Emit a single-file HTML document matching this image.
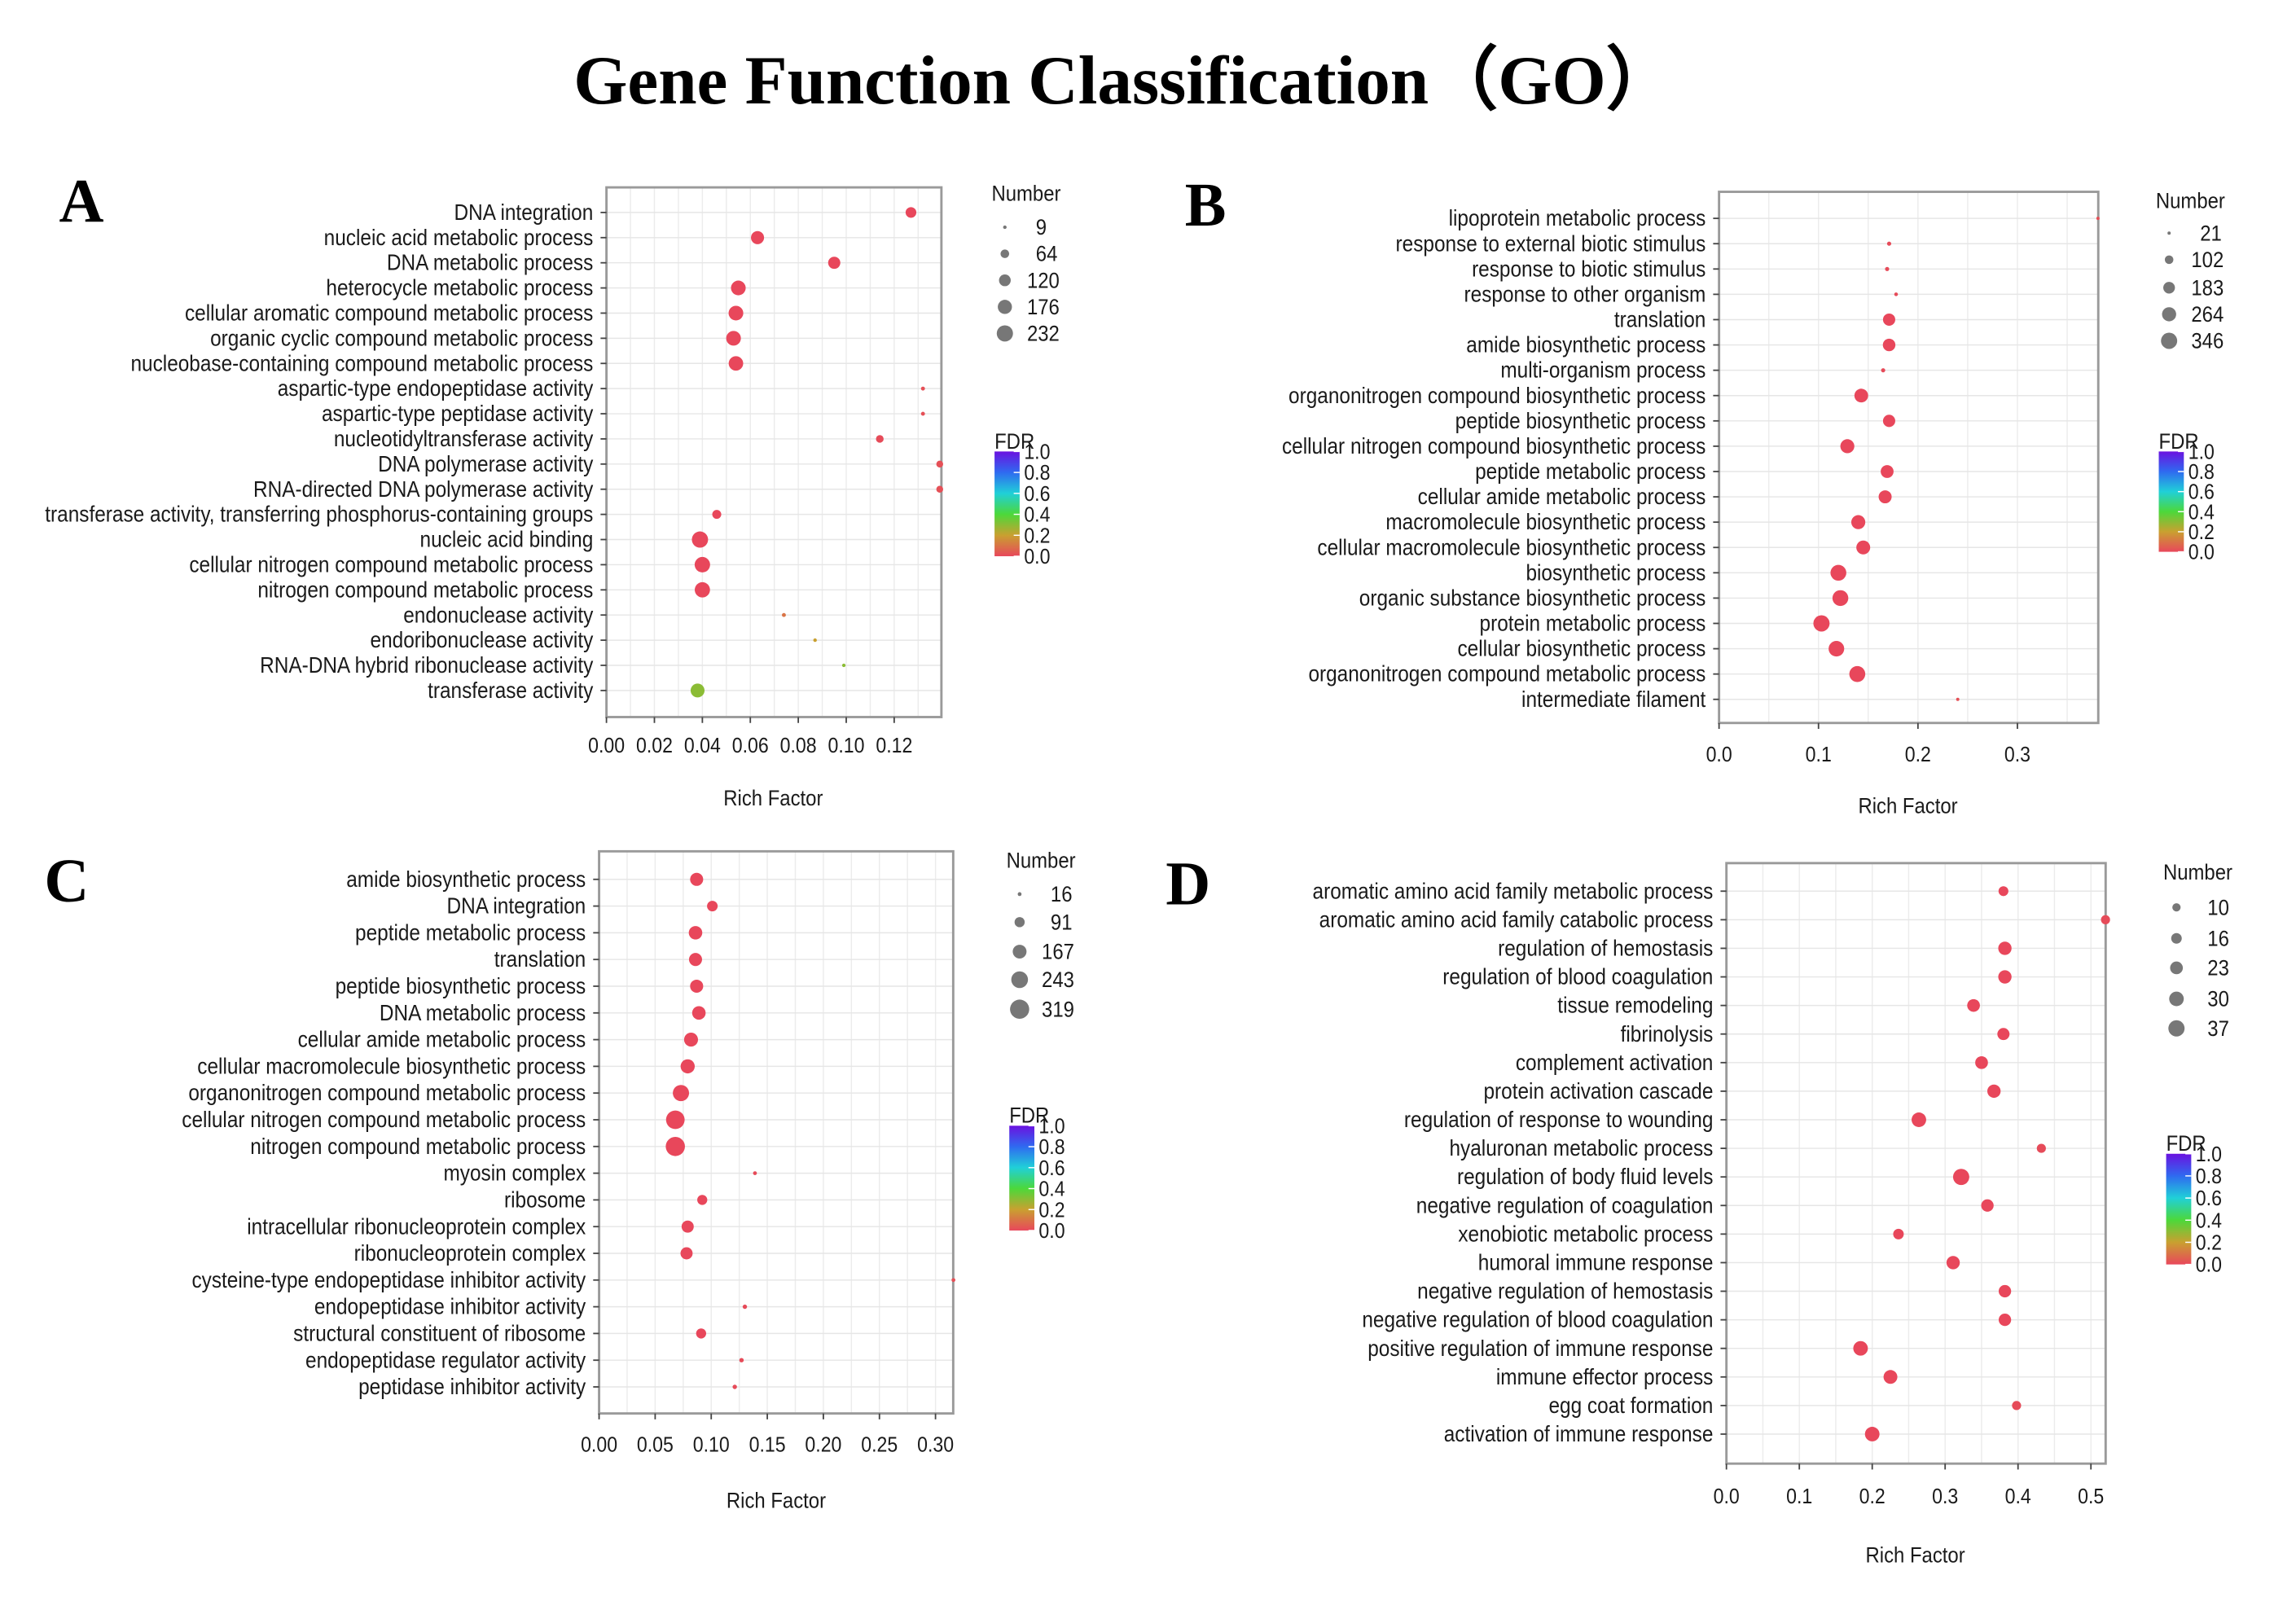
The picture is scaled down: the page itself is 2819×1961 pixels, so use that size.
<!DOCTYPE html>
<html><head><meta charset="utf-8"><style>
html,body{margin:0;padding:0;background:#fff;}
svg{display:block;}
</style></head><body>
<svg id="fig" width="2819" height="1961" viewBox="0 0 1556 1082.4" xmlns="http://www.w3.org/2000/svg" font-family="'Liberation Sans', sans-serif">
<defs>
<linearGradient id="fdrgrad" x1="0" y1="1" x2="0" y2="0">
<stop offset="0" stop-color="#e8475b"/><stop offset="0.2" stop-color="#c9a030"/><stop offset="0.4" stop-color="#4cd83a"/>
<stop offset="0.6" stop-color="#20d0d8"/><stop offset="0.8" stop-color="#2f6af0"/><stop offset="1" stop-color="#6a12e0"/>
</linearGradient>
</defs>
<text x="762" y="70" text-anchor="middle" font-family="'Liberation Serif', serif" font-weight="bold" font-size="47">Gene Function Classification（GO）</text>
<g id="root"></g>
</svg>
<script>
// Panel A data
const catsA = ["DNA integration","nucleic acid metabolic process","DNA metabolic process","heterocycle metabolic process","cellular aromatic compound metabolic process","organic cyclic compound metabolic process","nucleobase-containing compound metabolic process","aspartic-type endopeptidase activity","aspartic-type peptidase activity","nucleotidyltransferase activity","DNA polymerase activity","RNA-directed DNA polymerase activity","transferase activity, transferring phosphorus-containing groups","nucleic acid binding","cellular nitrogen compound metabolic process","nitrogen compound metabolic process","endonuclease activity","endoribonuclease activity","RNA-DNA hybrid ribonuclease activity","transferase activity"];
const richA = [0.127,0.063,0.095,0.055,0.054,0.053,0.054,0.132,0.132,0.114,0.139,0.139,0.046,0.039,0.040,0.040,0.074,0.087,0.099,0.038];
const numA = [100,150,130,190,190,190,185,12,12,50,40,40,70,232,210,205,12,9,9,170];
const fdrA = [0,0,0,0,0,0,0,0.02,0.02,0.01,0.02,0.02,0,0,0,0,0.1,0.2,0.3,0.3];
const ticksA = [0,0.02,0.04,0.06,0.08,0.10,0.12];
const tickLabA = ["0.00","0.02","0.04","0.06","0.08","0.10","0.12"];
const legA = [9,64,120,176,232];
// Panel B data
const catsB = ["lipoprotein metabolic process","response to external biotic stimulus","response to biotic stimulus","response to other organism","translation","amide biosynthetic process","multi-organism process","organonitrogen compound biosynthetic process","peptide biosynthetic process","cellular nitrogen compound biosynthetic process","peptide metabolic process","cellular amide metabolic process","macromolecule biosynthetic process","cellular macromolecule biosynthetic process","biosynthetic process","organic substance biosynthetic process","protein metabolic process","cellular biosynthetic process","organonitrogen compound metabolic process","intermediate filament"];
const richB = [0.381,0.171,0.169,0.178,0.171,0.171,0.165,0.143,0.171,0.129,0.169,0.167,0.140,0.145,0.120,0.122,0.103,0.118,0.139,0.240];
const numB = [21,30,30,25,200,210,30,250,200,260,220,225,260,255,330,330,346,320,335,21];
const fdrB = [0.02,0.01,0.01,0.01,0,0,0.01,0,0,0,0,0,0,0,0,0,0,0,0,0.02];
const ticksB = [0,0.1,0.2,0.3];
const tickLabB = ["0.0","0.1","0.2","0.3"];
const legB = [21,102,183,264,346];
// Panel C data
const catsC = ["amide biosynthetic process","DNA integration","peptide metabolic process","translation","peptide biosynthetic process","DNA metabolic process","cellular amide metabolic process","cellular macromolecule biosynthetic process","organonitrogen compound metabolic process","cellular nitrogen compound metabolic process","nitrogen compound metabolic process","myosin complex","ribosome","intracellular ribonucleoprotein complex","ribonucleoprotein complex","cysteine-type endopeptidase inhibitor activity","endopeptidase inhibitor activity","structural constituent of ribosome","endopeptidase regulator activity","peptidase inhibitor activity"];
const richC = [0.087,0.101,0.086,0.086,0.087,0.089,0.082,0.079,0.073,0.068,0.068,0.139,0.092,0.079,0.078,0.316,0.130,0.091,0.127,0.121];
const numC = [150,100,160,150,150,160,170,175,230,300,319,16,90,130,130,16,20,90,20,20];
const fdrC = [0,0,0,0,0,0,0,0,0,0,0,0.01,0,0,0,0.02,0.01,0,0.01,0.01];
const ticksC = [0,0.05,0.10,0.15,0.20,0.25,0.30];
const tickLabC = ["0.00","0.05","0.10","0.15","0.20","0.25","0.30"];
const legC = [16,91,167,243,319];
// Panel D data
const catsD = ["aromatic amino acid family metabolic process","aromatic amino acid family catabolic process","regulation of hemostasis","regulation of blood coagulation","tissue remodeling","fibrinolysis","complement activation","protein activation cascade","regulation of response to wounding","hyaluronan metabolic process","regulation of body fluid levels","negative regulation of coagulation","xenobiotic metabolic process","humoral immune response","negative regulation of hemostasis","negative regulation of blood coagulation","positive regulation of immune response","immune effector process","egg coat formation","activation of immune response"];
const richD = [0.380,0.520,0.382,0.382,0.339,0.380,0.350,0.367,0.264,0.432,0.322,0.358,0.236,0.311,0.382,0.382,0.184,0.225,0.398,0.200];
const numD = [14,12,25,25,23,21,23,25,30,12,37,22,16,25,22,22,30,27,12,30];
const fdrD = [0,0.01,0,0,0,0,0,0,0,0.01,0,0,0,0,0,0,0,0,0.01,0];
const ticksD = [0,0.1,0.2,0.3,0.4,0.5];
const tickLabD = ["0.0","0.1","0.2","0.3","0.4","0.5"];
const legD = [10,16,23,30,37];

const NS = "http://www.w3.org/2000/svg";
const root = document.getElementById('root');
function mk(tag, attrs, parent){const e=document.createElementNS(NS,tag);for(const k in attrs)e.setAttribute(k,attrs[k]);(parent||root).appendChild(e);return e;}
function txt(x,y,s,size,anchor,parent){const e=mk('text',{transform:`translate(${x},${y}) scale(0.88,1)`,'font-size':size,'text-anchor':anchor||'start',fill:'#1a1a1a'},parent);e.textContent=s;return e;}
const stops=[[0,[232,71,91]],[0.2,[201,160,48]],[0.4,[76,216,58]],[0.6,[32,208,216]],[0.8,[47,106,240]],[1,[106,18,224]]];
function fdrColor(f){for(let i=1;i<stops.length;i++){if(f<=stops[i][0]){const a=stops[i-1],b=stops[i];const t=(f-a[0])/(b[0]-a[0]);const c=a[1].map((v,j)=>Math.round(v+(b[1][j]-v)*t));return `rgb(${c})`;}}return 'rgb(106,18,224)';}

const panels=[
 {id:'a',letter:'A',lx:40,ly:150,cats:catsA,rich:richA,num:numA,fdr:fdrA,ticks:ticksA,tl:tickLabA,leg:legA,x0:411,x1:638,y0:127,y1:486,xmax:0.1397,rowTop:144,rowBot:468,tickY:510,rfX:524,rfY:546,rmin:1.2,rmax:5.5,lgX:672,lgY:136,lgRows:[154,172,190,208,226],cbY:306,cbH:71},
 {id:'b',letter:'B',lx:803,ly:153,cats:catsB,rich:richB,num:numB,fdr:fdrB,ticks:ticksB,tl:tickLabB,leg:legB,x0:1165,x1:1422,y0:130,y1:490,xmax:0.3813,rowTop:148,rowBot:474,tickY:516,rfX:1293,rfY:551,rmin:1.1,rmax:5.5,lgX:1461,lgY:141,lgRows:[158,176,195,213,231],cbY:306,cbH:68},
 {id:'c',letter:'C',lx:30,ly:611,cats:catsC,rich:richC,num:numC,fdr:fdrC,ticks:ticksC,tl:tickLabC,leg:legC,x0:406,x1:646,y0:577,y1:958,xmax:0.3158,rowTop:596,rowBot:940,tickY:984,rfX:526,rfY:1022,rmin:1.3,rmax:6.5,lgX:682,lgY:588,lgRows:[606,625,645,664,684],cbY:763,cbH:71},
 {id:'d',letter:'D',lx:790,ly:613,cats:catsD,rich:richD,num:numD,fdr:fdrD,ticks:ticksD,tl:tickLabD,leg:legD,x0:1170,x1:1427,y0:585,y1:992,xmax:0.5202,rowTop:604,rowBot:972,tickY:1019,rfX:1298,rfY:1059,rmin:2.8,rmax:5.5,lgX:1466,lgY:596,lgRows:[615,636,656,677,697],cbY:782,cbH:75}
];

panels.forEach(p=>{
 const g=mk('g',{});
 
 
 const L=mk('text',{x:p.lx,y:p.ly,'font-family':"'Liberation Serif', serif",'font-weight':'bold','font-size':42,fill:'#000'},g);
 L.textContent=p.letter;
 
 
 const xs=v=>p.x0+(v/p.xmax)*(p.x1-p.x0);
 const n=p.cats.length;
 const ys=i=>p.rowTop+i*(p.rowBot-p.rowTop)/(n-1);
 const nmin=p.leg[0],nmax=p.leg[p.leg.length-1];
 const rs=v=>Math.sqrt(p.rmin*p.rmin+(p.rmax*p.rmax-p.rmin*p.rmin)*Math.max(0,(v-nmin))/(nmax-nmin));
 const bg=mk('rect',{x:p.x0,y:p.y0,width:p.x1-p.x0,height:p.y1-p.y0,fill:'#fff'},g);
 
 
 const dt=p.ticks[1]-p.ticks[0];
 for(let v=dt/2;v<p.xmax;v+=dt/2){mk('line',{x1:xs(v),x2:xs(v),y1:p.y0,y2:p.y1,stroke:'#ececec','stroke-width':0.8},g);}
 p.cats.forEach((c,i)=>{mk('line',{x1:p.x0,x2:p.x1,y1:ys(i),y2:ys(i),stroke:'#e6e6e6','stroke-width':0.8},g);});
 const fr=mk('rect',{x:p.x0,y:p.y0,width:p.x1-p.x0,height:p.y1-p.y0,fill:'none',stroke:'#9a9a9a','stroke-width':1.6},g);
 
 
 p.cats.forEach((c,i)=>{
  mk('line',{x1:p.x0-4,x2:p.x0,y1:ys(i),y2:ys(i),stroke:'#444','stroke-width':1},g);
  const t=txt(p.x0-9,ys(i)+5,c,15.3,'end',g);
  
  
 });
 p.ticks.forEach((v,i)=>{
  mk('line',{x1:xs(v),x2:xs(v),y1:p.y1,y2:p.y1+4,stroke:'#444','stroke-width':1},g);
  const t=txt(xs(v),p.tickY,p.tl[i],14.5,'middle',g);
  
  
 });
 const rf=txt(p.rfX,p.rfY,'Rich Factor',15,'middle',g);
 
 
 p.cats.forEach((c,i)=>{
  const d=mk('circle',{cx:xs(p.rich[i]),cy:ys(i),r:rs(p.num[i]),fill:fdrColor(p.fdr[i])},g);
  
  
 });
 const nt=txt(p.lgX,p.lgY,'Number',15,'start',g);
 
 
 p.leg.forEach((v,i)=>{
  const dd=mk('circle',{cx:p.lgX+9,cy:p.lgRows[i],r:rs(v),fill:'#777'},g);
  
  
  const lt=txt(p.lgX+24+(String(v).length<3?6:0),p.lgRows[i]+5,String(v),15,'start',g);
  
  
 });
 const ft=txt(p.lgX+2,p.cbY-2,'FDR',15,'start',g);
 
 
 const cb=mk('rect',{x:p.lgX+2,y:p.cbY,width:17,height:p.cbH,fill:'url(#fdrgrad)'},g);
 
 
 [0,0.2,0.4,0.6,0.8,1.0].forEach(v=>{
  const yy=p.cbY+p.cbH*(1-v);
  mk('line',{x1:p.lgX+15,x2:p.lgX+19,y1:yy,y2:yy,stroke:'#fff','stroke-width':0.8},g);
  const ct=txt(p.lgX+22,yy+5,v.toFixed(1),14.5,'start',g);
  
  
 });
});
</script>
</body></html>
